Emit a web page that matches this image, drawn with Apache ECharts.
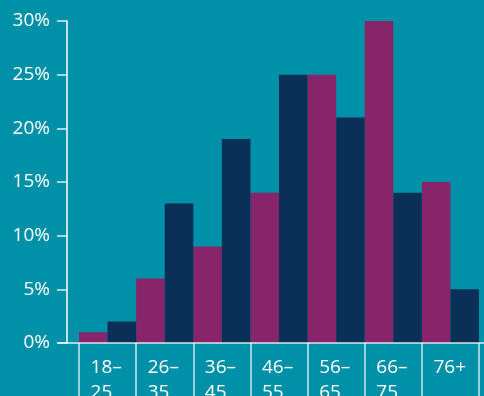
<!DOCTYPE html>
<html>
<head>
<meta charset="utf-8">
<style>
  html, body { margin: 0; padding: 0; background: #0090a8; }
  #chart { width: 484px; height: 396px; }
</style>
<script src="https://cdn.jsdelivr.net/npm/echarts@6/dist/echarts.min.js"></script>
</head>
<body>
<div id="chart"></div>
<script>
// Age bands (upper line / lower line of each label)
const ageBands = [['18–', '25'], ['26–', '35'], ['36–', '45'], ['46–', '55'], ['56–', '65'], ['66–', '75'], ['76+', '']];
// Share of respondents per age band, in percent
const purpleShare = [1, 6, 9, 14, 25, 30, 15];
const navyShare = [2, 13, 19, 25, 21, 14, 5];
// Y axis range and step, in percent
const yMin = 0;
const yMax = 30;
const yStep = 5;

const BG = '#0090a8';
const PURPLE = '#87246a';
const NAVY = '#0b3057';
const FONT = 'Open Sans';

const W = 484, H = 396;
const gridLeft = 79, gridRight = 5, gridTop = 21, gridBottom = 53;
const yAxisOffset = 12;

const chart = echarts.init(document.getElementById('chart'), null, { renderer: 'canvas' });

const categories = ageBands.map(b => b.join('\n'));

const option = {
  backgroundColor: BG,
  animation: false,
  grid: {
    left: gridLeft, right: gridRight, top: gridTop, bottom: gridBottom,
    containLabel: false,
    outerBoundsMode: 'none'
  },
  xAxis: {
    type: 'category',
    data: categories,
    boundaryGap: true,
    axisLine: { show: false },
    axisTick: {
      show: true,
      alignWithLabel: false,
      length: 70,
      lineStyle: { color: 'rgba(255,255,255,0.8)', width: 1.5 }
    },
    axisLabel: {
      margin: 12,
      interval: 0,
      formatter: function (v) {
        const parts = v.split('\n');
        return parts.map(p => '{t|' + p + '}').join('\n');
      },
      rich: {
        t: {
          width: 34,
          align: 'left',
          color: '#ffffff',
          fontFamily: FONT,
          fontSize: 19,
          lineHeight: 25
        }
      }
    },
    splitLine: { show: false }
  },
  yAxis: {
    type: 'value',
    min: yMin,
    max: yMax,
    interval: yStep,
    offset: yAxisOffset,
    axisLine: { show: true, lineStyle: { color: '#ffffff', width: 1.5 } },
    axisTick: { show: true, length: 10, lineStyle: { color: 'rgba(255,255,255,0.85)', width: 1.5 } },
    axisLabel: {
      margin: 17,
      color: '#ffffff',
      fontFamily: FONT,
      fontSize: 19,
      formatter: '{value}%'
    },
    splitLine: { show: false }
  },
  series: [
    {
      type: 'bar',
      data: purpleShare,
      itemStyle: { color: PURPLE },
      barGap: '0%',
      barCategoryGap: '0%'
    },
    {
      type: 'bar',
      data: navyShare,
      itemStyle: { color: NAVY },
      barGap: '0%',
      barCategoryGap: '0%'
    }
  ],
  graphic: [
    {
      // baseline running from the y-axis tick through to the right edge
      type: 'line',
      silent: true,
      z: 10,
      shape: {
        x1: gridLeft - yAxisOffset - 10,
        y1: H - gridBottom,
        x2: W,
        y2: H - gridBottom
      },
      style: { stroke: 'rgba(255,255,255,0.85)', lineWidth: 1.5 }
    }
  ]
};

chart.setOption(option);
</script>
</body>
</html>
